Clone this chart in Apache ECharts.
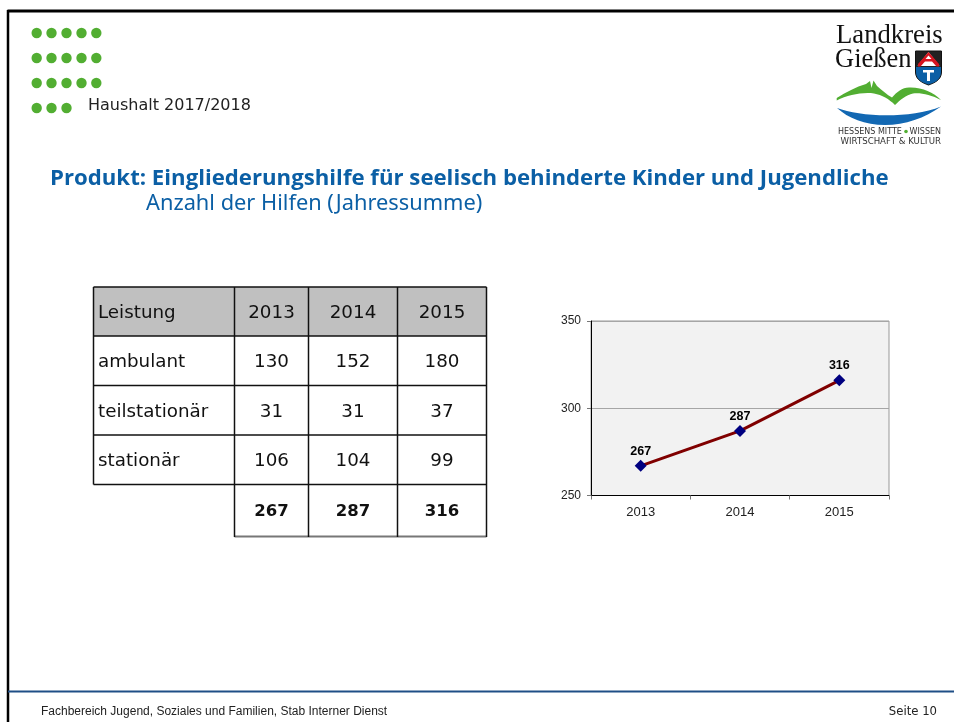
<!DOCTYPE html>
<html>
<head>
<meta charset="utf-8">
<title>Haushalt 2017/2018</title>
<style>
	html, body { margin: 0; padding: 0; background: #fff; }
	#chart { width: 954px; height: 722px; }
</style>
<script src="https://cdn.jsdelivr.net/npm/echarts@6/dist/echarts.min.js"></script>
</head>
<body>
<div id="chart"></div>
<script>
	// Daten
	var years = ['2013', '2014', '2015'];
	var totals = [267, 287, 316];
	var rowNames = ['ambulant', 'teilstationär', 'stationär'];
	var ambulant = [130, 152, 180];
	var teilstationaer = [31, 31, 37];
	var stationaer = [106, 104, 99];
	var yTicks = { min: 250, max: 350, step: 50 };

	var rows = [ambulant, teilstationaer, stationaer];
	var tableFont = '18.3px "DejaVu Sans"';
	var green = '#52ae32';
	var blue = '#0b5fa5';

	// Tabelle
	var colX = [93.5, 234.5, 308.5, 397.5, 486.5];
	var rowY = [287, 336, 385.5, 435, 484.5, 536];
	var g = [];

	function text(str, x, y, font, fill, align) {
		g.push({
			type: 'text', z: 5,
			style: { text: str, x: x, y: y, font: font, fill: fill, textAlign: align || 'left', textVerticalAlign: 'middle' }
		});
	}
	function line(x1, y1, x2, y2, color, w) {
		g.push({
			type: 'line', z: 4,
			shape: { x1: x1, y1: y1, x2: x2, y2: y2 },
			style: { stroke: color, lineWidth: w }
		});
	}
	// Logo-Formen als eigene Pfade
	function logoPath(name, d, fill, z, stroke) {
		echarts.graphic.registerShape(name, echarts.graphic.extendPath(d, {}));
		g.push({ type: name, z: z, style: { fill: fill, stroke: stroke || null, lineWidth: 1 } });
	}

	g.push({ type: 'rect', z: 1, shape: { x: colX[0], y: rowY[0], width: colX[4] - colX[0], height: rowY[1] - rowY[0] }, style: { fill: '#c0c0c0' } });
	rowY.forEach(function (y, i) {
		if (i < 5) line(colX[0], y, colX[4], y, '#111', 1.5);
	});
	line(colX[1], 536.5, colX[4], 536.5, '#777', 2);
	colX.forEach(function (x, i) {
		var bottom = (i === 0) ? rowY[4] : rowY[5] + 1;
		line(x, rowY[0], x, bottom, '#111', 1.5);
	});

	function midCol(i) { return (colX[i + 1] + colX[i + 2]) / 2; }
	function midRow(i) { return (rowY[i] + rowY[i + 1]) / 2 + 1.8; }

	text('Leistung', 98, midRow(0), tableFont, '#111');
	years.forEach(function (y, i) { text(y, midCol(i), midRow(0), tableFont, '#111', 'center'); });
	rows.forEach(function (r, j) {
		text(rowNames[j], 98, midRow(j + 1), tableFont, '#111');
		r.forEach(function (v, i) { text(String(v), midCol(i), midRow(j + 1), tableFont, '#111', 'center'); });
	});
	totals.forEach(function (v, i) { text(String(v), midCol(i), midRow(4), 'bold 16.5px "DejaVu Sans"', '#111', 'center'); });

	// Rahmen und Fusszeile
	line(7.5, 11, 954, 11, '#000', 3);
	line(8, 10, 8, 722, '#000', 2.5);
	line(8, 691.5, 954, 691.5, '#1f4e86', 2);
	text('Fachbereich Jugend, Soziales und Familien, Stab Interner Dienst', 41, 711.5, '12px "Liberation Sans"', '#222');
	text('Seite 10', 937, 711.5, '11.7px "DejaVu Sans"', '#222', 'right');

	// Punkte oben links
	[33, 58, 83, 108].forEach(function (y, r) {
		[36.7, 51.5, 66.5, 81.5, 96.3].forEach(function (x, c) {
			if (r === 3 && c > 2) return;
			g.push({ type: 'circle', z: 4, shape: { cx: x, cy: y, r: 5.2 }, style: { fill: green } });
		});
	});
	text('Haushalt 2017/2018', 88, 106, '16px "DejaVu Sans"', '#222');

	// Ueberschrift
	text('Produkt: Eingliederungshilfe für seelisch behinderte Kinder und Jugendliche', 50, 179, 'bold 22.2px "Open Sans"', blue);
	text('Anzahl der Hilfen (Jahressumme)', 146, 204, '21.8px "Noto Sans"', blue);

	// Logo
	text('Landkreis', 836, 36, '26.7px "Liberation Serif"', '#111');
	text('Gießen', 835, 60, '26.5px "Liberation Serif"', '#111');
	text('HESSENS MITTE', 838, 132, '8px "DejaVu Sans"', '#333');
	g.push({ type: 'circle', z: 4, shape: { cx: 906, cy: 131.5, r: 1.8 }, style: { fill: green } });
	text('WISSEN', 941, 132, '8px "DejaVu Sans"', '#333', 'right');
	text('WIRTSCHAFT & KULTUR', 941, 141.5, '8.6px "DejaVu Sans"', '#333', 'right');
	logoPath('hill', 'M836.7 98 C846 92 856 87 866 84 L870 81 L871.5 88 L873.5 80.5 L877 86 C882 90 887 95 892 97.5 C897 92 902 87.5 909 87.5 C922 87 933 92 941 100 C931 95 921 92.5 913 93.5 C906 95 900 100 895 105 C889 99 882 95 874 93.5 C862 92 848 95 836.7 100.5 Z', green, 4);
	logoPath('river', 'M837 108 C860 117 910 119 941 106.5 C925 118 905 125 885 125 C865 125 848 118 837 108 Z', '#1268b3', 4);
	logoPath('shield', 'M915.5 51 L941.5 51 L941.5 72 C941.5 80 934 83 928.5 85 C923 83 915.5 80 915.5 72 Z', '#222', 4, '#111');
	logoPath('shieldLow', 'M916 67 L941 67 L941 72 C941 80 934 83 928.5 84.5 C923 83 916 80 916 72 Z', '#0b5fa5', 5);
	logoPath('shieldWhite', 'M928.5 52 L939.5 66 L917.5 66 Z', '#fff', 5);
	logoPath('roof', 'M928.5 52 L939 64 L939 66.5 L936.5 66.5 L932 61.5 L925 61.5 L920.5 66.5 L918 66.5 L918 64 Z M928.5 55.5 L925.5 59 L931.5 59 Z', '#d7141f', 6);
	logoPath('letterT', 'M923 70 L934 70 L934 72.5 L930 72.5 L930 81 L927 81 L927 72.5 L923 72.5 Z', '#fff', 6);

	var myChart = echarts.init(document.getElementById('chart'));

	var option = {
		animation: false,
		textStyle: { fontFamily: '"Liberation Sans"' },
		graphic: { elements: g },
		grid: {
			left: 591, top: 321, width: 298, height: 174.5,
			show: true, backgroundColor: '#f2f2f2', borderColor: '#999', borderWidth: 1
		},
		xAxis: {
			type: 'category',
			data: years,
			boundaryGap: true,
			axisLine: { lineStyle: { color: '#000', width: 1 } },
			axisTick: { show: true, length: 4, lineStyle: { color: '#777' } },
			axisLabel: { color: '#222', fontSize: 13, margin: 10, fontFamily: '"Liberation Sans"' }
		},
		yAxis: {
			type: 'value',
			min: yTicks.min,
			max: yTicks.max,
			interval: yTicks.step,
			axisLine: { show: true, lineStyle: { color: '#000', width: 1 } },
			axisTick: { show: true, length: 4, lineStyle: { color: '#777' } },
			axisLabel: { color: '#222', fontSize: 12, margin: 10, fontFamily: '"Liberation Sans"' },
			splitLine: { show: true, lineStyle: { color: '#a6a6a6', width: 1 } }
		},
		series: [{
			type: 'line',
			data: totals,
			symbol: 'diamond',
			symbolSize: 12,
			itemStyle: { color: '#000080' },
			lineStyle: { color: '#800000', width: 3 },
			label: {
				show: true, position: 'top', distance: 2,
				color: '#000', fontSize: 12.5, fontWeight: 'bold', fontFamily: '"Liberation Sans"'
			}
		}]
	};

	myChart.setOption(option);
</script>
</body>
</html>
